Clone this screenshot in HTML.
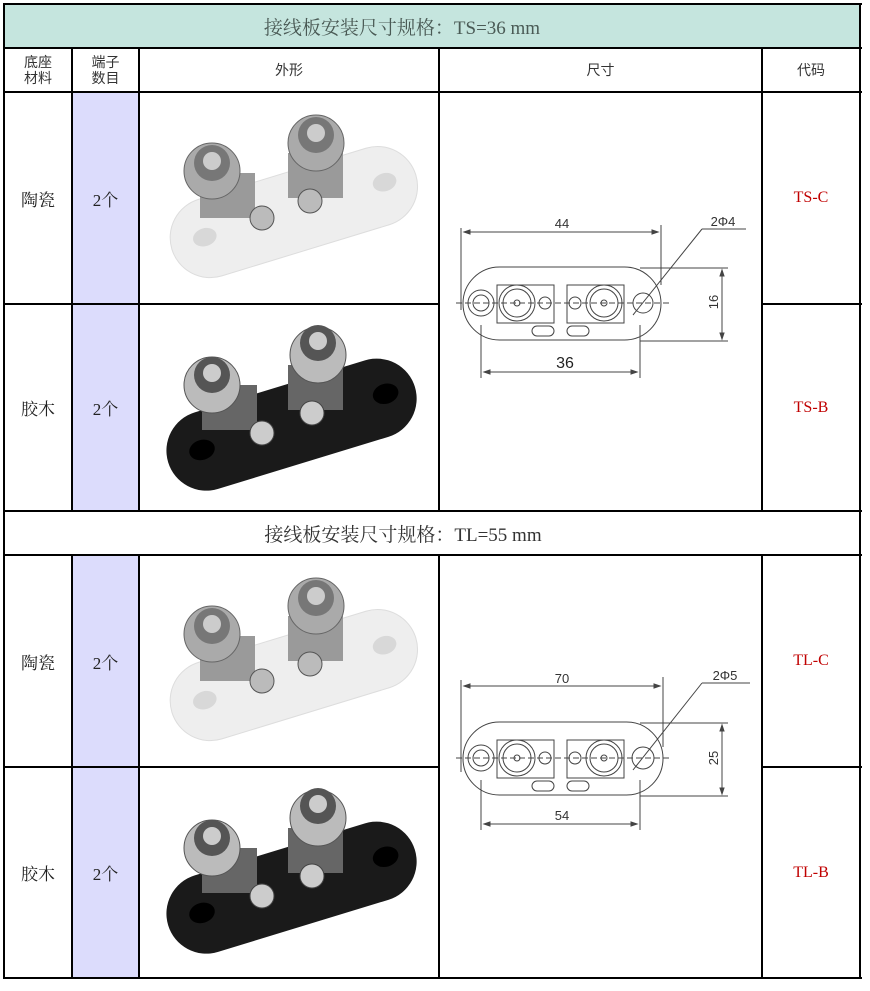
<!DOCTYPE html>
<html><head><meta charset="utf-8"><style>
body{margin:0;background:#fff;width:870px;height:991px;position:relative;overflow:hidden;font-family:"Liberation Serif","Noto Serif CJK SC","Noto Sans CJK SC",serif;}
.a{position:absolute;}
.h{background:#000;height:2px;}
.v{background:#000;width:2px;}
.t{position:absolute;display:flex;align-items:center;justify-content:center;text-align:center;font-size:17px;color:#222;}
.s{font-family:"Liberation Sans","Noto Sans CJK SC",sans-serif;font-size:14px;line-height:16px;color:#333;}
.r{color:#c00000;font-size:16px;}
</style></head><body>
<div class="a" style="left:4px;top:4px;width:856px;height:44px;background:#c5e5de"></div>
<div class="a" style="left:73px;top:93px;width:66px;height:418px;background:#dcdcfc"></div>
<div class="a" style="left:73px;top:556px;width:66px;height:423px;background:#dcdcfc"></div>
<!-- horizontal lines -->
<div class="a h" style="left:4px;top:3px;width:858px"></div>
<div class="a h" style="left:4px;top:47px;width:858px"></div>
<div class="a h" style="left:4px;top:91px;width:858px"></div>
<div class="a h" style="left:4px;top:303px;width:436px"></div>
<div class="a h" style="left:761px;top:303px;width:101px"></div>
<div class="a h" style="left:4px;top:510px;width:858px"></div>
<div class="a h" style="left:4px;top:554px;width:858px"></div>
<div class="a h" style="left:4px;top:766px;width:436px"></div>
<div class="a h" style="left:761px;top:766px;width:101px"></div>
<div class="a h" style="left:4px;top:977px;width:858px"></div>
<!-- vertical -->
<div class="a v" style="left:3px;top:3px;height:976px"></div>
<div class="a v" style="left:859px;top:3px;height:976px"></div>
<div class="a v" style="left:71px;top:47px;height:465px"></div>
<div class="a v" style="left:138px;top:47px;height:465px"></div>
<div class="a v" style="left:438px;top:47px;height:465px"></div>
<div class="a v" style="left:761px;top:47px;height:465px"></div>
<div class="a v" style="left:71px;top:554px;height:425px"></div>
<div class="a v" style="left:138px;top:554px;height:425px"></div>
<div class="a v" style="left:438px;top:554px;height:425px"></div>
<div class="a v" style="left:761px;top:554px;height:425px"></div>
<!-- text -->
<div class="t" style="left:4px;top:4px;width:796px;height:44px;font-size:19px;color:#4a5a55">接线板安装尺寸规格：TS=36 mm</div>
<div class="t s" style="left:5px;top:49px;width:66px;height:42px">底座<br>材料</div>
<div class="t s" style="left:73px;top:49px;width:65px;height:42px">端子<br>数目</div>
<div class="t s" style="left:140px;top:49px;width:298px;height:42px">外形</div>
<div class="t s" style="left:440px;top:49px;width:321px;height:42px">尺寸</div>
<div class="t s" style="left:763px;top:49px;width:96px;height:42px">代码</div>
<div class="t" style="left:5px;top:93px;width:66px;height:210px">陶瓷</div>
<div class="t" style="left:73px;top:93px;width:65px;height:210px">2个</div>
<div class="t r" style="left:763px;top:93px;width:96px;height:210px">TS-C</div>
<div class="t" style="left:5px;top:305px;width:66px;height:205px">胶木</div>
<div class="t" style="left:73px;top:305px;width:65px;height:205px">2个</div>
<div class="t r" style="left:763px;top:305px;width:96px;height:205px">TS-B</div>
<div class="t" style="left:5px;top:512px;width:796px;height:42px;font-size:19px;color:#333">接线板安装尺寸规格：TL=55 mm</div>
<div class="t" style="left:5px;top:556px;width:66px;height:210px">陶瓷</div>
<div class="t" style="left:73px;top:556px;width:65px;height:210px">2个</div>
<div class="t r" style="left:763px;top:556px;width:96px;height:210px">TL-C</div>
<div class="t" style="left:5px;top:768px;width:66px;height:209px">胶木</div>
<div class="t" style="left:73px;top:768px;width:65px;height:209px">2个</div>
<div class="t r" style="left:763px;top:768px;width:96px;height:209px">TL-B</div>

<!-- photos -->
<svg class="a" style="left:140px;top:93px" width="298" height="210" viewBox="0 0 298 210">
<g transform="rotate(-17 150 115)"><rect x="25" y="80" width="255" height="80" rx="40" fill="#eee" stroke="#ddd"/><ellipse cx="60" cy="118" rx="12" ry="9" fill="#d8d8d8"/><ellipse cx="248" cy="118" rx="12" ry="9" fill="#d8d8d8"/></g>
<rect x="60" y="80" width="55" height="45" fill="#9a9a9a"/><rect x="148" y="60" width="55" height="45" fill="#9a9a9a"/>
<circle cx="72" cy="78" r="28" fill="#aaa" stroke="#666"/><circle cx="72" cy="70" r="18" fill="#777"/><circle cx="72" cy="68" r="9" fill="#ccc"/>
<circle cx="176" cy="50" r="28" fill="#aaa" stroke="#666"/><circle cx="176" cy="42" r="18" fill="#777"/><circle cx="176" cy="40" r="9" fill="#ccc"/>
<circle cx="122" cy="125" r="12" fill="#bbb" stroke="#555"/><circle cx="170" cy="108" r="12" fill="#bbb" stroke="#555"/>
</svg>
<svg class="a" style="left:140px;top:305px" width="298" height="205" viewBox="0 0 298 205">
<g transform="rotate(-17 150 118)"><rect x="22" y="80" width="258" height="80" rx="40" fill="#1a1a1a"/><ellipse cx="58" cy="118" rx="13" ry="10" fill="#000"/><ellipse cx="250" cy="118" rx="13" ry="10" fill="#000"/></g>
<rect x="62" y="80" width="55" height="45" fill="#666"/><rect x="148" y="60" width="55" height="45" fill="#666"/>
<circle cx="72" cy="80" r="28" fill="#bbb" stroke="#555"/><circle cx="72" cy="70" r="18" fill="#555"/><circle cx="72" cy="68" r="9" fill="#ccc"/>
<circle cx="178" cy="50" r="28" fill="#bbb" stroke="#555"/><circle cx="178" cy="38" r="18" fill="#555"/><circle cx="178" cy="36" r="9" fill="#ccc"/>
<circle cx="122" cy="128" r="12" fill="#ccc" stroke="#444"/><circle cx="172" cy="108" r="12" fill="#ccc" stroke="#444"/>
</svg>
<svg class="a" style="left:140px;top:556px" width="298" height="210" viewBox="0 0 298 210">
<g transform="rotate(-17 150 115)"><rect x="25" y="80" width="255" height="80" rx="40" fill="#eee" stroke="#ddd"/><ellipse cx="60" cy="118" rx="12" ry="9" fill="#d8d8d8"/><ellipse cx="248" cy="118" rx="12" ry="9" fill="#d8d8d8"/></g>
<rect x="60" y="80" width="55" height="45" fill="#9a9a9a"/><rect x="148" y="60" width="55" height="45" fill="#9a9a9a"/>
<circle cx="72" cy="78" r="28" fill="#aaa" stroke="#666"/><circle cx="72" cy="70" r="18" fill="#777"/><circle cx="72" cy="68" r="9" fill="#ccc"/>
<circle cx="176" cy="50" r="28" fill="#aaa" stroke="#666"/><circle cx="176" cy="42" r="18" fill="#777"/><circle cx="176" cy="40" r="9" fill="#ccc"/>
<circle cx="122" cy="125" r="12" fill="#bbb" stroke="#555"/><circle cx="170" cy="108" r="12" fill="#bbb" stroke="#555"/>
</svg>
<svg class="a" style="left:140px;top:768px" width="298" height="209" viewBox="0 0 298 209">
<g transform="rotate(-17 150 118)"><rect x="22" y="80" width="258" height="80" rx="40" fill="#1a1a1a"/><ellipse cx="58" cy="118" rx="13" ry="10" fill="#000"/><ellipse cx="250" cy="118" rx="13" ry="10" fill="#000"/></g>
<rect x="62" y="80" width="55" height="45" fill="#666"/><rect x="148" y="60" width="55" height="45" fill="#666"/>
<circle cx="72" cy="80" r="28" fill="#bbb" stroke="#555"/><circle cx="72" cy="70" r="18" fill="#555"/><circle cx="72" cy="68" r="9" fill="#ccc"/>
<circle cx="178" cy="50" r="28" fill="#bbb" stroke="#555"/><circle cx="178" cy="38" r="18" fill="#555"/><circle cx="178" cy="36" r="9" fill="#ccc"/>
<circle cx="122" cy="128" r="12" fill="#ccc" stroke="#444"/><circle cx="172" cy="108" r="12" fill="#ccc" stroke="#444"/>
</svg>

<!-- drawings -->
<svg class="a" style="left:440px;top:190px" width="320" height="200" viewBox="0 0 320 200" font-family="Liberation Sans,sans-serif" fill="none" stroke="#444" stroke-width="1">
<line x1="21" y1="38" x2="21" y2="120"/><line x1="221" y1="35" x2="221" y2="95"/>
<line x1="24" y1="42" x2="218" y2="42"/><path d="M24 42l6-2v4zM218 42l-6-2v4z" fill="#444"/>
<text x="122" y="38" font-size="13" fill="#333" stroke="none" text-anchor="middle">44</text>
<text x="283" y="36" font-size="13" fill="#333" stroke="none" text-anchor="middle">2Φ4</text>
<line x1="262" y1="39" x2="306" y2="39"/><line x1="262" y1="39" x2="193" y2="125"/>
<rect x="23" y="77" width="198" height="73" rx="36.5"/>
<line x1="200" y1="78" x2="288" y2="78"/><line x1="200" y1="151" x2="288" y2="151"/>
<line x1="282" y1="80" x2="282" y2="149"/><path d="M282 80l-2 6h4zM282 149l-2-6h4z" fill="#444"/>
<text x="278" y="112" font-size="13" fill="#333" stroke="none" transform="rotate(-90 278 112)" text-anchor="middle">16</text>
<line x1="16" y1="113" x2="230" y2="113" stroke-dasharray="6 3"/>
<circle cx="41" cy="113" r="13"/><circle cx="41" cy="113" r="8"/>
<rect x="57" y="95" width="57" height="38"/><rect x="127" y="95" width="57" height="38"/>
<circle cx="77" cy="113" r="18"/><circle cx="77" cy="113" r="14"/><circle cx="77" cy="113" r="3"/>
<circle cx="164" cy="113" r="18"/><circle cx="164" cy="113" r="14"/><circle cx="164" cy="113" r="3"/>
<circle cx="105" cy="113" r="6"/><circle cx="135" cy="113" r="6"/><circle cx="203" cy="113" r="10"/>
<rect x="92" y="136" width="22" height="10" rx="5"/><rect x="127" y="136" width="22" height="10" rx="5"/>
<line x1="41" y1="135" x2="41" y2="188"/><line x1="200" y1="135" x2="200" y2="188"/>
<line x1="44" y1="182" x2="197" y2="182"/><path d="M44 182l6-2v4zM197 182l-6-2v4z" fill="#444"/>
<text x="125" y="178" font-size="16" fill="#222" stroke="none" text-anchor="middle">36</text>
</svg>
<svg class="a" style="left:440px;top:652px" width="320" height="200" viewBox="0 0 320 200" font-family="Liberation Sans,sans-serif" fill="none" stroke="#444" stroke-width="1">
<line x1="21" y1="28" x2="21" y2="120"/><line x1="223" y1="25" x2="223" y2="95"/>
<line x1="24" y1="34" x2="220" y2="34"/><path d="M24 34l6-2v4zM220 34l-6-2v4z" fill="#444"/>
<text x="122" y="31" font-size="13" fill="#333" stroke="none" text-anchor="middle">70</text>
<text x="285" y="28" font-size="13" fill="#333" stroke="none" text-anchor="middle">2Φ5</text>
<line x1="262" y1="31" x2="310" y2="31"/><line x1="262" y1="31" x2="193" y2="118"/>
<rect x="23" y="70" width="200" height="73" rx="36.5"/>
<line x1="200" y1="71" x2="288" y2="71"/><line x1="200" y1="144" x2="288" y2="144"/>
<line x1="282" y1="73" x2="282" y2="142"/><path d="M282 73l-2 6h4zM282 142l-2-6h4z" fill="#444"/>
<text x="278" y="106" font-size="13" fill="#333" stroke="none" transform="rotate(-90 278 106)" text-anchor="middle">25</text>
<line x1="16" y1="106" x2="232" y2="106" stroke-dasharray="6 3"/>
<circle cx="41" cy="106" r="13"/><circle cx="41" cy="106" r="8"/>
<rect x="57" y="88" width="57" height="38"/><rect x="127" y="88" width="57" height="38"/>
<circle cx="77" cy="106" r="18"/><circle cx="77" cy="106" r="14"/><circle cx="77" cy="106" r="3"/>
<circle cx="164" cy="106" r="18"/><circle cx="164" cy="106" r="14"/><circle cx="164" cy="106" r="3"/>
<circle cx="105" cy="106" r="6"/><circle cx="135" cy="106" r="6"/><circle cx="203" cy="106" r="11"/>
<rect x="92" y="129" width="22" height="10" rx="5"/><rect x="127" y="129" width="22" height="10" rx="5"/>
<line x1="41" y1="128" x2="41" y2="178"/><line x1="200" y1="128" x2="200" y2="178"/>
<line x1="44" y1="172" x2="197" y2="172"/><path d="M44 172l6-2v4zM197 172l-6-2v4z" fill="#444"/>
<text x="122" y="168" font-size="13" fill="#333" stroke="none" text-anchor="middle">54</text>
</svg>
</body></html>
